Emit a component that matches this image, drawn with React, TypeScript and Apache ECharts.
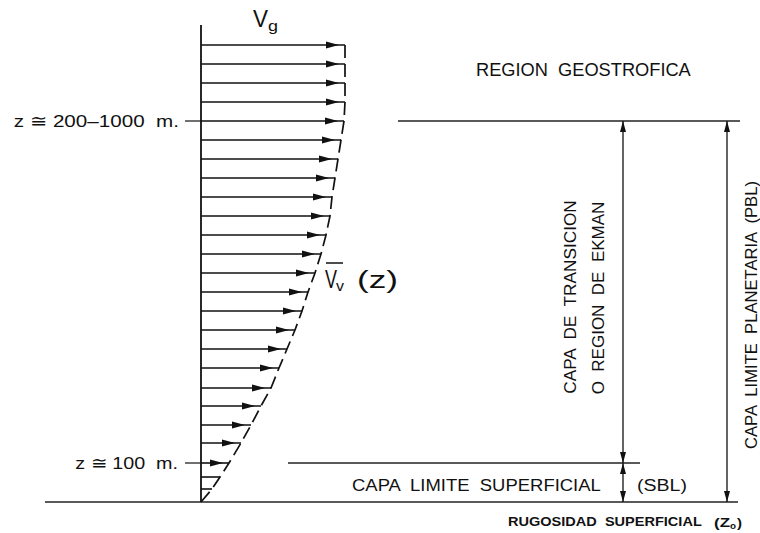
import React, { useEffect, useRef } from "react";
import * as echarts from "echarts";

// Wind profile: height above ground (px-scale units) and wind speed (arrow length)
const heights = [457, 438, 419, 400, 381, 362, 343, 324, 305, 286, 267, 248, 229, 210, 191, 172, 153, 134, 114, 96, 77, 59, 39, 25, 13];
const speeds = [144, 144, 144, 144, 143, 140, 137, 134, 131, 129, 125, 120, 114, 107, 101, 94, 86, 78, 70, 60, 50, 40, 28, 19, 11];
const groundPoint = [0, 0];

// Layer boundaries (heights)
const ekmanTop = 381;
const sblTop = 39;
const axisTop = 477;

// Horizontal reference lines: [height, xStart, xEnd]
const levelLines = [
  [ekmanTop, 197, 539],
  [sblTop, 87, 439],
  [ekmanTop, -16, 0],
  [sblTop, -16, 0],
  [0, -156, 537],
];
// Vertical lines: [x, hLow, hHigh, arrows?]
const dimLines = [
  [422, sblTop, ekmanTop, 1],
  [526, 0, ekmanTop, 1],
  [422, 0, sblTop, 1],
  [0, 0, axisTop, 0],
];

const FONT = "Liberation Sans";

export default function App() {
  const ref = useRef<HTMLDivElement>(null);
  useEffect(() => {
    const chart = echarts.init(ref.current!, null, { renderer: "svg" });
    const cv = document.createElement("canvas");
    const ctx = cv.getContext("2d")!;
    const measure = (t: string, size: number, weight = "normal") => {
      ctx.font = `${weight} ${size}px "${FONT}"`;
      return ctx.measureText(t).width;
    };
    const txt = (
      t: string,
      x: number,
      y: number,
      size: number,
      width: number | null,
      align = "left",
      rot = 0,
      weight = "normal"
    ) => {
      const w = measure(t, size, weight);
      const sx = width ? width / w : 1;
      return {
        type: "text",
        x,
        y,
        rotation: rot,
        scaleX: sx,
        silent: true,
        style: {
          text: t,
          fill: "#111",
          fontSize: size,
          fontFamily: FONT,
          fontWeight: weight,
          align,
          textAlign: align,
          verticalAlign: "middle",
          textVerticalAlign: "middle",
        },
      };
    };
    const R = Math.PI / 2;
    const graphics: any[] = [
      txt("V", 253, 19, 24, 15),
      txt("g", 268, 26, 15, 10),
      txt("z ≅ 200–1000  m.", 179, 121, 17, 165, "right"),
      txt("z ≅ 100  m.", 178, 463, 17, 103, "right"),
      txt("REGION  GEOSTROFICA", 476, 70, 18, 215),
      txt("V", 325, 279, 25, 12),
      txt("v", 336, 286, 15, 8),
      txt("(z)", 357, 280, 24, 41),
      {
        type: "line",
        shape: { x1: 326, y1: 263, x2: 343, y2: 263 },
        style: { stroke: "#111", lineWidth: 1.5 },
      },
      txt("CAPA  DE  TRANSICION", 571, 297, 16, 195, "center", R),
      txt("O  REGION  DE  EKMAN", 598, 298, 16, 193, "center", R),
      txt("CAPA  LIMITE  PLANETARIA  (PBL)", 751, 315, 16, 270, "center", R),
      txt("CAPA  LIMITE  SUPERFICIAL", 352, 485, 17, 250),
      txt("(SBL)", 637, 485, 17, 50),
      txt("RUGOSIDAD  SUPERFICIAL", 508, 522, 13, 194, "left", 0, "bold"),
      txt("(Z", 714, 522, 13, 16, "left", 0, "bold"),
      txt("o", 730, 526, 9, 6, "left", 0, "bold"),
      txt(")", 737, 522, 13, 5, "left", 0, "bold"),
    ];

    const arrowData = speeds.map((s, i) => [s, heights[i]]);
    const profileData = [...speeds.map((s, i) => [s, heights[i]]), groundPoint];

    const option: any = {
      animation: false,
      backgroundColor: "#fff",
      grid: { left: 0, right: 0, top: 0, bottom: 0 },
      xAxis: { type: "value", min: -201, max: 559, show: false },
      yAxis: { type: "value", min: -31, max: 502, show: false },
      graphic: { elements: graphics },
      series: [
        {
          type: "line",
          data: profileData,
          symbol: "none",
          lineStyle: { color: "#111", width: 1.7, type: [13, 6] },
          z: 3,
        },
        {
          type: "custom",
          data: arrowData,
          encode: { x: 0, y: 1 },
          renderItem: (_p: any, api: any) => {
            const s = api.value(0) as number;
            const h = api.value(1) as number;
            const a = api.coord([0, h]);
            const b = api.coord([s, h]);
            const ch: any[] = [
              {
                type: "line",
                shape: { x1: a[0], y1: a[1], x2: b[0], y2: b[1] },
                style: { stroke: "#111", lineWidth: 1.6 },
              },
            ];
            if (s > 25) {
              const tip = b[0] - 6;
              ch.push({
                type: "polygon",
                shape: {
                  points: [
                    [tip, b[1]],
                    [tip - 13, b[1] - 3.5],
                    [tip - 13, b[1] + 3.5],
                  ],
                },
                style: { fill: "#111" },
              });
            }
            return { type: "group", children: ch };
          },
          z: 4,
        },
        {
          type: "custom",
          data: levelLines,
          renderItem: (_p: any, api: any) => {
            const h = api.value(0);
            const a = api.coord([api.value(1), h]);
            const b = api.coord([api.value(2), h]);
            return {
              type: "line",
              shape: { x1: a[0], y1: a[1], x2: b[0], y2: b[1] },
              style: { stroke: "#222", lineWidth: 1.3 },
            };
          },
          z: 2,
        },
        {
          type: "custom",
          data: dimLines,
          renderItem: (_p: any, api: any) => {
            const x = api.value(0);
            const lo = api.coord([x, api.value(1)]);
            const hi = api.coord([x, api.value(2)]);
            const arrows = api.value(3);
            const ch: any[] = [
              {
                type: "line",
                shape: { x1: lo[0], y1: lo[1], x2: hi[0], y2: hi[1] },
                style: { stroke: "#111", lineWidth: arrows ? 1.3 : 1.8 },
              },
            ];
            if (arrows) {
              ch.push({
                type: "polygon",
                shape: { points: [[hi[0], hi[1]], [hi[0] - 3, hi[1] + 11], [hi[0] + 3, hi[1] + 11]] },
                style: { fill: "#111" },
              });
              ch.push({
                type: "polygon",
                shape: { points: [[lo[0], lo[1]], [lo[0] - 3, lo[1] - 11], [lo[0] + 3, lo[1] - 11]] },
                style: { fill: "#111" },
              });
            }
            return { type: "group", children: ch };
          },
          z: 2,
        },
      ],
    };
    chart.setOption(option);
    return () => chart.dispose();
  }, []);
  return (
    <div
      ref={ref}
      style={{ position: "fixed", left: 0, top: 0, width: 760, height: 533, background: "#fff" }}
    />
  );
}
